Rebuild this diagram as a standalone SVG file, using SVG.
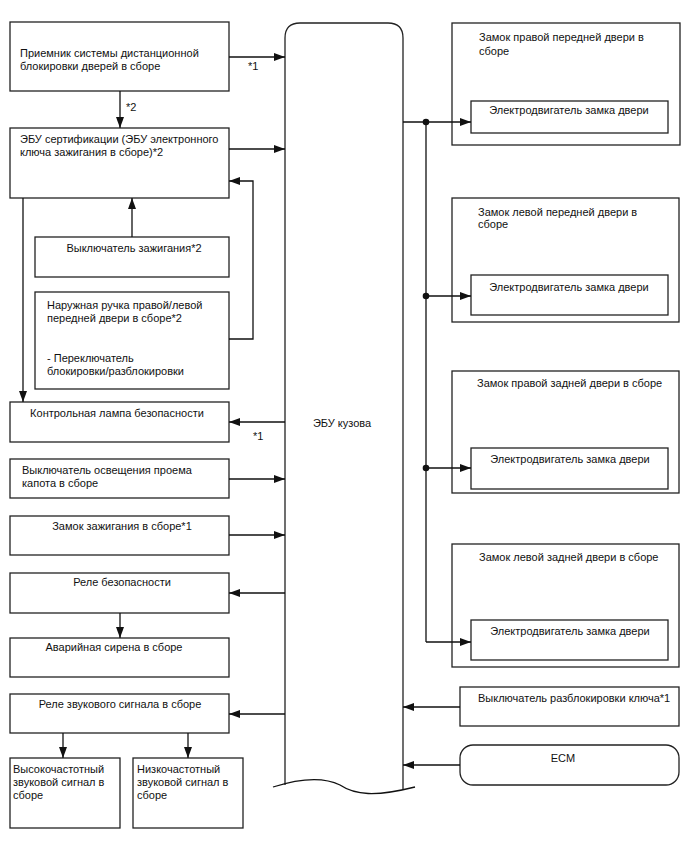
<svg xmlns="http://www.w3.org/2000/svg" width="688" height="852" viewBox="0 0 688 852">
<style>
.b{fill:#fff;stroke:#222;stroke-width:1.3}
.t{font-family:"Liberation Sans",Arial,sans-serif;font-size:11px;fill:#111}
.m{text-anchor:middle}
.c{fill:none;stroke:#111;stroke-width:1.3}
.a{marker-end:url(#ar)}
</style>
<defs>
<marker id="ar" markerUnits="userSpaceOnUse" markerWidth="11" markerHeight="8" refX="11" refY="4" orient="auto">
<path d="M0,0 L11,4 L0,8 z" fill="#111"/>
</marker>
</defs>
<rect width="688" height="852" fill="#fff"/>

<g id="ecu">
<path class="b" d="M285,785 L285,38 Q285,23 300,23 L388,23 Q403,23 403,38 L403,790"/>
<path class="c" d="M273,787 C295,780 320,775 340,785 C355,795 375,797 415,787"/>
<text class="t m" x="342" y="427">ЭБУ кузова</text>
</g>

<g id="receiver">
<rect class="b" x="10" y="22" width="219" height="69"/>
<text class="t" x="20" y="57">Приемник системы дистанционной</text>
<text class="t" x="20" y="70">блокировки дверей в сборе</text>
</g>

<g id="cert-ecu">
<rect class="b" x="10" y="128" width="219" height="70"/>
<text class="t" x="20" y="143">ЭБУ сертификации (ЭБУ электронного</text>
<text class="t" x="20" y="156">ключа зажигания в сборе)*2</text>
</g>

<g id="ign-switch">
<rect class="b" x="35" y="237" width="194" height="40"/>
<text class="t m" x="134" y="252">Выключатель зажигания*2</text>
</g>

<g id="door-handle">
<rect class="b" x="35" y="292" width="194" height="97"/>
<text class="t" x="47" y="309">Наружная ручка правой/левой</text>
<text class="t" x="47" y="322">передней двери в сборе*2</text>
<text class="t" x="47" y="362">- Переключатель</text>
<text class="t" x="47" y="375">блокировки/разблокировки</text>
</g>

<g id="security-lamp">
<rect class="b" x="10" y="402" width="219" height="40"/>
<text class="t m" x="117" y="417">Контрольная лампа безопасности</text>
</g>

<g id="hood-switch">
<rect class="b" x="10" y="459" width="219" height="39"/>
<text class="t" x="22" y="474">Выключатель освещения проема</text>
<text class="t" x="22" y="487">капота в сборе</text>
</g>

<g id="ign-lock">
<rect class="b" x="10" y="516" width="219" height="39"/>
<text class="t m" x="122" y="530">Замок зажигания в сборе*1</text>
</g>

<g id="security-relay">
<rect class="b" x="10" y="573" width="219" height="40"/>
<text class="t m" x="122" y="586">Реле безопасности</text>
</g>

<g id="siren">
<rect class="b" x="10" y="638" width="219" height="39"/>
<text class="t m" x="114" y="651">Аварийная сирена в сборе</text>
</g>

<g id="horn-relay">
<rect class="b" x="10" y="694" width="219" height="39"/>
<text class="t m" x="120" y="708">Реле звукового сигнала в сборе</text>
</g>

<g id="horn-high">
<rect class="b" x="10" y="758" width="110" height="70"/>
<text class="t" x="13" y="773">Высокочастотный</text>
<text class="t" x="13" y="786">звуковой сигнал в</text>
<text class="t" x="13" y="799">сборе</text>
</g>

<g id="horn-low">
<rect class="b" x="133" y="758" width="110" height="70"/>
<text class="t" x="137" y="773">Низкочастотный</text>
<text class="t" x="137" y="786">звуковой сигнал в</text>
<text class="t" x="137" y="799">сборе</text>
</g>

<g id="door-fr">
<rect class="b" x="452" y="23" width="228" height="122"/>
<text class="t" x="479" y="41">Замок правой передней двери в</text>
<text class="t" x="479" y="55">сборе</text>
<rect class="b" x="471" y="101" width="197" height="32"/>
<text class="t m" x="569" y="114">Электродвигатель замка двери</text>
</g>

<g id="door-fl">
<rect class="b" x="452" y="198" width="227" height="124"/>
<text class="t" x="478" y="216">Замок левой передней двери в</text>
<text class="t" x="478" y="228">сборе</text>
<rect class="b" x="471" y="275" width="197" height="40"/>
<text class="t m" x="569" y="291">Электродвигатель замка двери</text>
</g>

<g id="door-rr">
<rect class="b" x="452" y="371" width="227" height="122"/>
<text class="t" x="477" y="387">Замок правой задней двери в сборе</text>
<rect class="b" x="471" y="448" width="197" height="41"/>
<text class="t m" x="570" y="463">Электродвигатель замка двери</text>
</g>

<g id="door-rl">
<rect class="b" x="452" y="544" width="227" height="123"/>
<text class="t" x="479" y="561">Замок левой задней двери в сборе</text>
<rect class="b" x="471" y="620" width="197" height="40"/>
<text class="t m" x="570" y="635">Электродвигатель замка двери</text>
</g>

<g id="key-unlock">
<rect class="b" x="460" y="687" width="219" height="39"/>
<text class="t" x="478" y="702">Выключатель разблокировки ключа*1</text>
</g>

<g id="ecm">
<rect class="b" x="460" y="745" width="219" height="40" rx="13"/>
<text class="t m" x="563" y="762">ECM</text>
</g>

<g id="connectors">
<path class="c a" d="M229,57 L285,57"/>
<text class="t" x="248" y="70">*1</text>
<path class="c a" d="M120,91 L120,128"/>
<text class="t" x="126" y="111">*2</text>
<path class="c a" d="M229,149 L285,149"/>
<path class="c a" d="M229,339 L253,339 L253,181 L229,181"/>
<path class="c a" d="M132,237 L132,198"/>
<path class="c a" d="M23,198 L23,402"/>
<path class="c a" d="M285,422 L229,422"/>
<text class="t" x="253" y="440">*1</text>
<path class="c a" d="M229,479 L285,479"/>
<path class="c a" d="M229,535 L285,535"/>
<path class="c a" d="M285,593 L229,593"/>
<path class="c a" d="M120,613 L120,638"/>
<path class="c a" d="M285,714 L229,714"/>
<path class="c a" d="M63,733 L63,758"/>
<path class="c a" d="M188,733 L188,758"/>
<path class="c" d="M403,122 L426,122 L426,642"/>
<path class="c a" d="M426,122 L471,122"/>
<path class="c a" d="M426,296 L471,296"/>
<path class="c a" d="M426,468 L471,468"/>
<path class="c a" d="M426,642 L471,642"/>
<circle cx="426" cy="122" r="3.3" fill="#111"/>
<circle cx="426" cy="296" r="3.3" fill="#111"/>
<circle cx="426" cy="468" r="3.3" fill="#111"/>
<path class="c a" d="M460,707 L403,707"/>
<path class="c a" d="M460,765 L403,765"/>
</g>
</svg>
